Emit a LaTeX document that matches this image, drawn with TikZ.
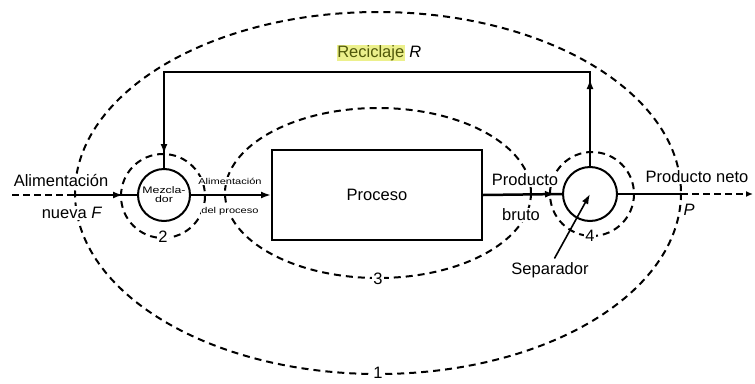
\documentclass[tikz,border=0pt]{standalone}
\usepackage{fontspec}
\setmainfont{Liberation Sans}
\usetikzlibrary{arrows.meta,decorations.markings}

\definecolor{recink}{RGB}{80,88,10}
\definecolor{rechigh}{RGB}{236,240,140}

\newcommand{\stretchtxt}[1]{\scalebox{1.3}[1]{#1}}

\tikzset{
  flow/.style={line width=2.5pt},
  zone/.style={dash pattern=on 7pt off 5pt,line width=2pt},
  cutflow/.style={line width=2.5pt,dash pattern=on 7pt off 4pt},
  lbl/.style={fill=white,inner sep=1pt,font=\fontsize{16.5}{18}\selectfont},
  tiny/.style={fill=white,inner sep=0.5pt,font=\fontsize{8.5}{9}\selectfont},
  tipat/.style={postaction={decorate},decoration={markings,
    mark=at position #1 with {\arrow{Latex[length=10pt,width=7pt]}}}},
}

\begin{document}
\begin{tikzpicture}[x=1pt,y=-1pt,>={Latex[length=10pt,width=7pt]}]

\useasboundingbox (0,0) rectangle (755,383);

% zones
\draw[zone] (378,193) ellipse [x radius=303, y radius=181];
\draw[zone] (378,193) ellipse [x radius=153, y radius=85];
\draw[zone] (163,196) circle (42);
\draw[zone] (592,194) circle (42);

% units
\node[circle,draw,line width=2pt,minimum size=52,inner sep=0pt,align=center,
      font=\fontsize{9.5}{10}\selectfont] (mix) at (164,195)
      {\stretchtxt{Mezcla-}\\[-1pt]\stretchtxt{dor}};
\node[circle,draw,line width=2pt,minimum size=54] (sep) at (590,194) {};
\node[draw,line width=2pt,minimum width=210,minimum height=90,
      font=\fontsize{16.5}{18}\selectfont] (proc) at (377,195) {Proceso};

\coordinate (fin) at (12,195);
\coordinate (fcut) at (76,195);
\coordinate (pcut) at (681,194);
\coordinate (pout) at (753,194);
\coordinate (rsep) at (590,72);
\coordinate (rmix) at (164,72);

% streams
\draw[cutflow] (fin) -- (fcut);
\draw[flow,tipat=47pt] (fcut) -- (mix.west);
\draw[flow,->] (mix.east) -- (proc.west);
\draw[flow,tipat=72pt] (proc.east) -- (sep.west);
\draw[flow] (sep.east) -- (pcut);
\draw[cutflow,-{Latex[length=7pt,width=6pt]}] (pcut) -- (pout);
\path [draw,flow,postaction={decorate},decoration={markings,
    mark=at position 87pt with {\arrow{Latex[length=10pt,width=7pt]}},
    mark=at position 602pt with {\arrow{Latex[length=10pt,width=7pt]}}}]
    (sep.north) -- (rsep) -- (rmix) -- (mix.north)
;

% labels
\node[lbl] (feedtop) at (61,181) {Alimentación};
\node[lbl] (feedbot) at (72,213) {nueva \textit{F}};
\node[tiny] (pftop) at (230,181) {\stretchtxt{Alimentación}};
\node[tiny] (pfbot) at (230,211) {\stretchtxt{del proceso}};
\node[lbl] (rawtop) at (525,180) {Producto};
\node[lbl] (rawbot) at (521,215) {bruto};
\node[lbl] (nettop) at (697,177) {Producto neto};
\node[lbl,fill=none] (netbot) at (689,210) {\textit{P}};
\node[lbl,fill=none] (rec) at (379,53)
    {{\fboxsep=0.5pt\colorbox{rechigh}{\textcolor{recink}{Reciclaje}}}~\textit{R}};
\node[lbl] (seplbl) at (550,270) {Separador};
\draw[line width=1.6pt,->,shorten <=3pt] ([xshift=3pt]seplbl.north) -- (sep.center);

\node[lbl,inner sep=1.5pt] (z1) at (378,373) {1};
\node[lbl,inner sep=1.5pt] (z2) at (163,237) {2};
\node[lbl,inner sep=1.5pt] (z3) at (378,279) {3};
\node[lbl,inner sep=1.5pt] (z4) at (590,236) {4};

\end{tikzpicture}
\end{document}
